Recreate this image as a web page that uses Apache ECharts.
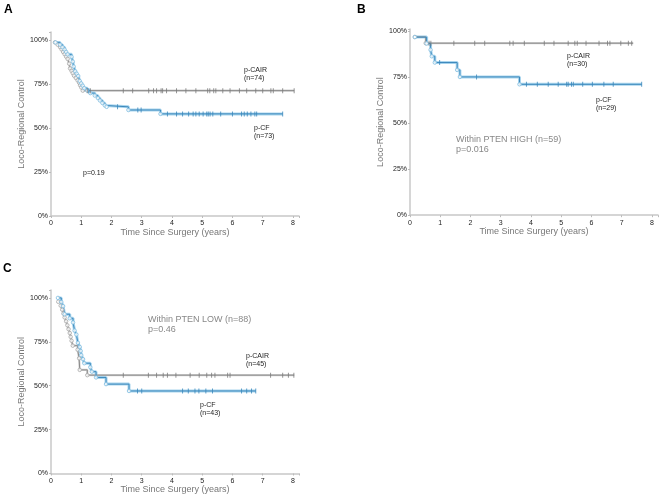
<!DOCTYPE html>
<html><head><meta charset="utf-8">
<script src="https://cdn.jsdelivr.net/npm/echarts@6/dist/echarts.min.js"></script>
<style>html,body{margin:0;padding:0;background:#fff}#c{width:662px;height:498px}</style>
</head><body><div id="c"></div>
<script>
// ---------- data ----------
const xTicks = [0,1,2,3,4,5,6,7,8];
const yTicks = [0,0.25,0.5,0.75,1];
const xName = 'Time Since Surgery (years)';
const yName = 'Loco-Regional Control';

// Panel A
const A_cair_t = [0.13,0.22,0.30,0.35,0.40,0.45,0.50,0.55,0.60,0.63,0.68,0.72,0.76,0.82,0.88,0.93,0.96,1.00,1.05];
const A_cair_s = [0.986,0.973,0.959,0.946,0.932,0.919,0.905,0.892,0.865,0.838,0.824,0.811,0.797,0.784,0.770,0.757,0.743,0.730,0.712];
const A_cair_end = 8.04;
const A_cair_cens = [1.2,1.3,2.39,2.7,3.23,3.39,3.49,3.64,3.69,3.82,4.15,4.46,4.79,5.18,5.25,5.38,5.45,5.68,5.92,6.23,6.47,6.77,7.0,7.27,7.35,7.66,8.04];
const A_cf_t = [0.15,0.30,0.38,0.45,0.50,0.55,0.68,0.72,0.75,0.80,0.85,0.90,0.95,1.00,1.05,1.10,1.20,1.30,1.45,1.55,1.62,1.70,1.78,1.84,2.56,3.62];
const A_cf_s = [0.986,0.973,0.959,0.945,0.932,0.918,0.904,0.877,0.849,0.822,0.808,0.795,0.767,0.753,0.740,0.726,0.712,0.698,0.684,0.670,0.656,0.642,0.628,0.620,0.602,0.580];
const A_cf_end = 7.66;
const A_cf_cens = [1.25,2.2,2.87,2.98,3.85,4.15,4.35,4.55,4.7,4.79,4.9,5.03,5.15,5.2,5.26,5.35,5.61,6.0,6.3,6.39,6.49,6.61,6.74,6.8,7.66];

// Panel B
const B_cair_t = [0.16,0.52];
const B_cair_s = [0.967,0.933];
const B_cair_end = 7.38;
const B_cair_cens = [0.63,0.69,1.45,2.14,2.47,3.30,3.41,3.78,4.44,4.76,5.23,5.45,5.53,5.82,6.25,6.53,6.61,6.97,7.22,7.33];
const B_cf_t = [0.16,0.55,0.68,0.72,0.82,1.56,1.65,3.62];
const B_cf_s = [0.966,0.931,0.897,0.862,0.828,0.788,0.750,0.710];
const B_cf_end = 7.66;
const B_cf_cens = [0.98,2.20,3.85,4.21,4.57,4.90,5.18,5.23,5.34,5.40,5.71,6.03,6.41,6.72,7.66];

// Panel C
const C_cair_t = [0.24,0.32,0.37,0.41,0.45,0.50,0.54,0.58,0.62,0.65,0.68,0.72,0.88,0.93,0.95,1.20];
const C_cair_s = [0.978,0.956,0.933,0.911,0.889,0.867,0.844,0.822,0.800,0.778,0.756,0.728,0.705,0.656,0.590,0.560];
const C_cair_end = 8.04;
const C_cair_cens = [2.39,3.22,3.49,3.71,3.85,4.13,4.60,4.90,5.15,5.31,5.42,5.84,5.92,7.26,7.66,7.85,8.03];
const C_cf_t = [0.23,0.34,0.40,0.45,0.62,0.73,0.78,0.84,0.89,0.95,0.98,1.00,1.06,1.10,1.30,1.35,1.49,1.82,2.58];
const C_cf_s = [1.0,0.977,0.953,0.907,0.884,0.860,0.814,0.791,0.744,0.721,0.698,0.674,0.651,0.628,0.605,0.580,0.547,0.509,0.470];
const C_cf_end = 6.77;
const C_cf_cens = [2.86,3.0,4.35,4.54,4.76,4.89,5.12,5.34,6.3,6.47,6.63,6.77];

// ---------- chart ----------
const FONT = '"Liberation Sans", Arial, sans-serif';
const grids = [
  {left:51, top:32, width:248, height:184},
  {left:410, top:29, width:248, height:186.2},
  {left:51, top:290, width:248, height:183.5}
];
const yMax = [1.045, 1.01, 1.045];

function xAxisOf(i){
  return {gridIndex:i, type:'value', min:0, max:8.2, interval:1,
    axisLine:{lineStyle:{color:'#c8c8c8', width:1.5}},
    axisTick:{show:true, length:2, lineStyle:{color:'#bbb'}},
    splitLine:{show:false},
    axisLabel:{fontSize:7, color:'#222', fontFamily:FONT, margin:4,
      formatter:v => xTicks.includes(v) ? String(v) : ''},
    name:xName, nameLocation:'middle', nameGap:10,
    nameTextStyle:{fontSize:9, color:'#777', fontFamily:FONT, verticalAlign:'top'}};
}
function yAxisOf(i){
  return {gridIndex:i, type:'value', min:0, max:yMax[i], interval:0.25,
    axisLine:{show:true, lineStyle:{color:'#c8c8c8', width:1.5}},
    axisTick:{show:true, length:2, lineStyle:{color:'#bbb'}},
    splitLine:{show:false},
    axisLabel:{fontSize:7, color:'#222', fontFamily:FONT, margin:3,
      formatter:v => yTicks.some(t => Math.abs(t-v)<1e-9) ? Math.round(v*100)+'%' : ''},
    name:yName, nameLocation:'middle', nameGap:19, nameRotate:90,
    nameTextStyle:{fontSize:9, color:'#777', fontFamily:FONT}};
}

function sAt(ts, ss, t){
  let s = 1;
  for (let k=0;k<ts.length;k++){ if (ts[k] <= t + 1e-9) s = ss[k]; }
  return s;
}
function kmSeries(i, ts, ss, endT, cens, kind){
  const data = ts.map((t,k)=>[t, ss[k]]);
  data.push([endT, ss[ss.length-1]]);
  const halo = kind==='cf' ? '#a9d5ee' : '#d2d2d2';
  const core = kind==='cf' ? '#3a87bb' : '#8a8a8a';
  const circ = kind==='cf' ? '#7fbde0' : '#a8a8a8';
  const tick = kind==='cf' ? '#3a87bb' : '#7a7a7a';
  return [
    {type:'line', xAxisIndex:i, yAxisIndex:i, step:'end', data:data, showSymbol:false,
     lineStyle:{color:halo, width:kind==='cf'?3:2.2}, silent:true, z:1},
    {type:'line', xAxisIndex:i, yAxisIndex:i, step:'end', data:data, showSymbol:false,
     lineStyle:{color:core, width:1}, silent:true, z:2},
    {type:'scatter', xAxisIndex:i, yAxisIndex:i, data:ts.map((t,k)=>[t, ss[k]]),
     symbol:'circle', symbolSize:3.5,
     itemStyle:{color:'#fff', borderColor:circ, borderWidth:1}, z:3},
    {type:'scatter', xAxisIndex:i, yAxisIndex:i, data:cens.map(t=>[t, sAt(ts, ss, t)]),
     symbol:'rect', symbolSize:[1,5], itemStyle:{color:tick}, z:4}
  ];
}

const series = [].concat(
  kmSeries(0, A_cair_t, A_cair_s, A_cair_end, A_cair_cens, 'cair'),
  kmSeries(0, A_cf_t, A_cf_s, A_cf_end, A_cf_cens, 'cf'),
  kmSeries(1, B_cair_t, B_cair_s, B_cair_end, B_cair_cens, 'cair'),
  kmSeries(1, B_cf_t, B_cf_s, B_cf_end, B_cf_cens, 'cf'),
  kmSeries(2, C_cair_t, C_cair_s, C_cair_end, C_cair_cens, 'cair'),
  kmSeries(2, C_cf_t, C_cf_s, C_cf_end, C_cf_cens, 'cf')
);

function txt(x, y, s, size, color, weight){
  return {type:'text', left:x, top:y, style:{text:s, fontSize:size, fill:color,
    fontFamily:FONT, fontWeight:weight||'normal', lineHeight:size+1}};
}
const graphic = [
  txt(4, 3, 'A', 12, '#000', 'bold'),
  txt(357, 3, 'B', 12, '#000', 'bold'),
  txt(3, 262, 'C', 12, '#000', 'bold'),
  txt(244, 66, 'p-CAIR\n(n=74)', 7, '#222'),
  txt(254, 124, 'p-CF\n(n=73)', 7, '#222'),
  txt(83, 169, 'p=0.19', 7, '#222'),
  txt(567, 52, 'p-CAIR\n(n=30)', 7, '#222'),
  txt(596, 96, 'p-CF\n(n=29)', 7, '#222'),
  txt(456, 135, 'Within PTEN HIGH (n=59)\np=0.016', 9, '#888'),
  txt(148, 315, 'Within PTEN LOW (n=88)\np=0.46', 9, '#888'),
  txt(246, 352, 'p-CAIR\n(n=45)', 7, '#222'),
  txt(200, 401, 'p-CF\n(n=43)', 7, '#222')
];

const chart = echarts.init(document.getElementById('c'), null, {renderer:'canvas'});
chart.setOption({
  animation:false,
  backgroundColor:'#fff',
  grid:grids,
  xAxis:[0,1,2].map(xAxisOf),
  yAxis:[0,1,2].map(yAxisOf),
  series:series,
  graphic:graphic
});
</script></body></html>
